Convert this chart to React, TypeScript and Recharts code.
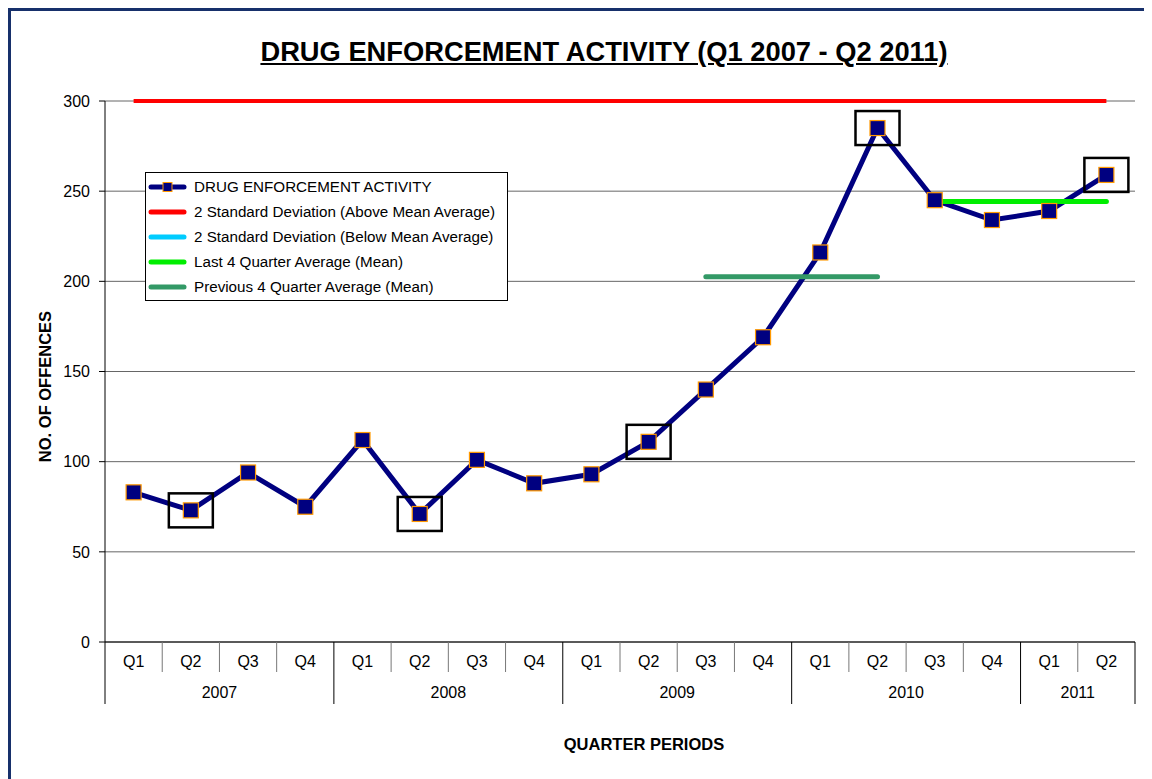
import React from "react";
import {
  LineChart,
  Line,
  XAxis,
  YAxis,
  CartesianGrid,
  Legend,
} from "recharts";

const quarters = ["Q1", "Q2", "Q3", "Q4", "Q1", "Q2", "Q3", "Q4", "Q1", "Q2", "Q3", "Q4", "Q1", "Q2", "Q3", "Q4", "Q1", "Q2"];
const years = ["2007", "2007", "2007", "2007", "2008", "2008", "2008", "2008", "2009", "2009", "2009", "2009", "2010", "2010", "2010", "2010", "2011", "2011"];
const offences = [83, 73, 94, 75, 112, 71, 101, 88, 93, 111, 140, 169, 216, 285, 245, 234, 239, 259];
const sdAbove = [300, 300, 300, 300, 300, 300, 300, 300, 300, 300, 300, 300, 300, 300, 300, 300, 300, 300];
const prevAvg = [null, null, null, null, null, null, null, null, null, null, 202.5, 202.5, 202.5, 202.5, null, null, null, null];
const lastAvg = [null, null, null, null, null, null, null, null, null, null, null, null, null, null, 244.25, 244.25, 244.25, 244.25];
const boxed = [false, true, false, false, false, true, false, false, false, true, false, false, false, true, false, false, false, true];
const yTicks = [0, 50, 100, 150, 200, 250, 300];

const legendItems = [
  { label: "DRUG ENFORCEMENT ACTIVITY", color: "#000080", marker: true },
  { label: "2 Standard Deviation (Above Mean Average)", color: "#FF0000" },
  { label: "2 Standard Deviation (Below Mean Average)", color: "#00CCFF" },
  { label: "Last 4 Quarter Average (Mean)", color: "#00EE00" },
  { label: "Previous 4 Quarter Average (Mean)", color: "#339966" },
];

const data = quarters.map((q, i) => ({
  key: `${q} ${years[i]}`,
  offences: offences[i],
  sdAbove: sdAbove[i],
  prevAvg: prevAvg[i],
  lastAvg: lastAvg[i],
  boxed: boxed[i],
}));

const W = 1144;
const H = 771;
const MARGIN = { top: 93, right: 17, left: 0, bottom: 0 };
const Y_W = 97;
const HALF = (W - Y_W - MARGIN.right) / quarters.length / 2;
const FONT = "'Liberation Sans', Arial, sans-serif";

function QuarterTick(props: any) {
  const { x, y, index } = props;
  const year = years[index];
  const firstOfYear = index === 0 || years[index - 1] !== year;
  const last = index === quarters.length - 1;
  const count = years.filter((v) => v === year).length;
  return (
    <g>
      <line
        x1={x - HALF}
        x2={x - HALF}
        y1={y}
        y2={y + (firstOfYear ? 62 : 30)}
        stroke={firstOfYear ? "#000" : "#777"}
        strokeWidth={1}
      />
      {last && (
        <line x1={x + HALF} x2={x + HALF} y1={y} y2={y + 62} stroke="#000" />
      )}
      <text x={x} y={y + 25} textAnchor="middle" fontSize={16} fill="#000" fontFamily={FONT}>
        {quarters[index]}
      </text>
      {firstOfYear && (
        <text
          x={x - HALF + count * HALF}
          y={y + 56}
          textAnchor="middle"
          fontSize={16}
          fill="#000"
          fontFamily={FONT}
        >
          {year}
        </text>
      )}
    </g>
  );
}

function YTitle(props: any) {
  const { viewBox } = props;
  const cx = viewBox.x + 37;
  const cy = viewBox.y + viewBox.height / 2 + 15;
  return (
    <text
      x={cx}
      y={cy}
      transform={`rotate(-90, ${cx}, ${cy})`}
      textAnchor="middle"
      dominantBaseline="central"
      fontSize={16.5}
      fontWeight="bold"
      fill="#000"
      fontFamily={FONT}
    >
      NO. OF OFFENCES
    </text>
  );
}

function renderDot(props: any) {
  const { cx, cy, index, payload } = props;
  return (
    <g key={`dot-${index}`}>
      {payload.boxed && (
        <rect
          x={cx - 22}
          y={cy - 17}
          width={44}
          height={34}
          fill="none"
          stroke="#000"
          strokeWidth={2.5}
        />
      )}
      <rect
        x={cx - 7.5}
        y={cy - 7.5}
        width={15}
        height={15}
        fill="#000080"
        stroke="#FF9900"
        strokeWidth={1.2}
      />
    </g>
  );
}

function LegendBox() {
  return (
    <div
      style={{
        width: 361,
        height: 126,
        border: "1px solid #000",
        background: "#fff",
        paddingTop: 1,
        boxSizing: "content-box",
      }}
    >
      {legendItems.map((item) => (
        <div
          key={item.label}
          style={{ display: "flex", alignItems: "center", height: 25, fontSize: 15.2, fontFamily: FONT }}
        >
          <svg width={46} height={16} style={{ marginLeft: 2, flex: "none" }}>
            <line x1={3} x2={36} y1={8} y2={8} stroke={item.color} strokeWidth={5} strokeLinecap="round" />
            {item.marker && (
              <rect x={15} y={3.5} width={9} height={9} fill="#000080" stroke="#FF9900" strokeWidth={1} />
            )}
          </svg>
          <span style={{ whiteSpace: "nowrap" }}>{item.label}</span>
        </div>
      ))}
    </div>
  );
}

export default function App() {
  return (
    <div style={{ position: "relative", width: W, height: H, fontFamily: FONT, background: "#fff" }}>
      <div
        style={{
          position: "absolute",
          top: 0,
          left: 0,
          right: 0,
          bottom: 0,
          borderTop: "3px solid #17306b",
          borderLeft: "3px solid #17306b",
          pointerEvents: "none",
          zIndex: 2,
        }}
      />
      <div
        style={{
          position: "absolute",
          left: 196,
          width: 800,
          top: 28,
          textAlign: "center",
          fontSize: 27.3,
          fontWeight: "bold",
          textDecoration: "underline",
          color: "#000",
        }}
      >
        DRUG ENFORCEMENT ACTIVITY (Q1 2007 - Q2 2011)
      </div>
      <LineChart width={W} height={H} data={data} margin={MARGIN}>
        <CartesianGrid vertical={false} stroke="#666" strokeWidth={1} />
        <XAxis
          dataKey="key"
          height={H - 634 - MARGIN.bottom}
          padding={{ left: HALF, right: HALF }}
          axisLine={{ stroke: "#000" }}
          tickLine={false}
          tickSize={0}
          tickMargin={0}
          interval={0}
          tick={<QuarterTick />}
          label={{
            value: "QUARTER PERIODS",
            position: "insideBottom",
            offset: 29,
            dx: 24,
            fontSize: 16.5,
            fontWeight: "bold",
            fill: "#000",
          }}
        />
        <YAxis
          width={Y_W}
          domain={[0, 300]}
          ticks={yTicks}
          axisLine={{ stroke: "#000" }}
          tickLine={{ stroke: "#000" }}
          tickSize={6}
          tickMargin={9}
          tick={{ fontSize: 16, fill: "#000" }}
          label={<YTitle />}
        />
        <Legend
          layout="horizontal"
          verticalAlign="middle"
          align="center"
          content={<LegendBox />}
          wrapperStyle={{ left: 137, top: 164, width: 363 }}
        />
        <Line
          dataKey="sdAbove"
          stroke="#FF0000"
          strokeWidth={4}
          dot={false}
          isAnimationActive={false}
          legendType="none"
        />
        <Line
          dataKey="offences"
          stroke="#000080"
          strokeWidth={5}
          dot={renderDot}
          activeDot={false}
          isAnimationActive={false}
        />
        <Line
          dataKey="prevAvg"
          stroke="#339966"
          strokeWidth={5}
          strokeLinecap="round"
          dot={false}
          isAnimationActive={false}
          connectNulls={false}
        />
        <Line
          dataKey="lastAvg"
          stroke="#00EE00"
          strokeWidth={5}
          strokeLinecap="round"
          dot={false}
          isAnimationActive={false}
          connectNulls={false}
        />
      </LineChart>
    </div>
  );
}
